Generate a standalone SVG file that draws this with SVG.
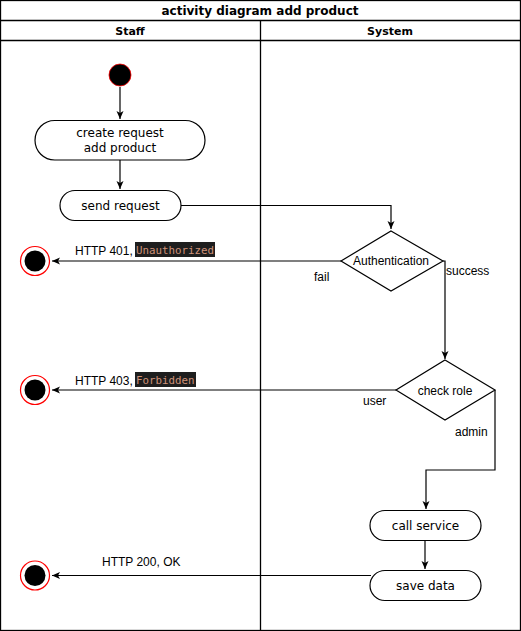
<svg xmlns="http://www.w3.org/2000/svg" width="521" height="631" viewBox="0 0 521 631">
<defs>
<style>
.frame{fill:#fff;stroke:#000;stroke-width:1.3}
.line{fill:none;stroke:#000;stroke-width:1.2}
.node{fill:#fff;stroke:#000;stroke-width:1.2}
.ntext{font-family:"DejaVu Sans",Verdana,sans-serif;font-size:12px;fill:#000;text-anchor:middle}
.head{font-family:"DejaVu Sans",Verdana,sans-serif;font-size:11px;font-weight:bold;fill:#000;text-anchor:middle}
.title{font-family:"DejaVu Sans",Verdana,sans-serif;font-size:12px;font-weight:bold;fill:#000;text-anchor:middle}
.lbl{font-family:"Liberation Sans",Arial,sans-serif;font-size:12px;fill:#000}
.code{font-family:"DejaVu Sans Mono","Liberation Mono",monospace;font-size:10.8px;fill:#ce9178}
.codebg{fill:#1e1e1e}
.start{fill:#000;stroke:#ff0000;stroke-width:0.8}
.endo{fill:#fff;stroke:#ff0000;stroke-width:1.2}
.endi{fill:#000}
</style>
<marker id="arr" markerWidth="10" markerHeight="10" refX="8" refY="5" orient="auto" markerUnits="userSpaceOnUse">
<path d="M0,1.5 L8,5 L0,8.5 L2,5 Z" fill="#000"/>
</marker>
</defs>
<rect width="521" height="631" fill="#fff"/>
<g id="pool">
<rect class="frame" x="0.5" y="0.5" width="520" height="630"/>
<line class="frame" x1="0.5" y1="20.5" x2="520.5" y2="20.5"/>
<line class="frame" x1="0.5" y1="40.5" x2="520.5" y2="40.5"/>
<line class="frame" x1="260.5" y1="20.5" x2="260.5" y2="630.5"/>
<text class="title" x="260" y="15">activity diagram add product</text>
<text class="head" x="130" y="35">Staff</text>
<text class="head" x="390" y="35">System</text>
</g>
<g id="connectors">
<line class="line" x1="120" y1="87" x2="120" y2="119" marker-end="url(#arr)"/>
<line class="line" x1="120" y1="160" x2="120" y2="189" marker-end="url(#arr)"/>
<polyline class="line" points="181,205.5 391,205.5 391,229" marker-end="url(#arr)"/>
<line class="line" x1="341" y1="261" x2="52" y2="261" marker-end="url(#arr)"/>
<polyline class="line" points="443,261 445,261 445,359" marker-end="url(#arr)"/>
<line class="line" x1="396" y1="390" x2="52" y2="390" marker-end="url(#arr)"/>
<polyline class="line" points="495,390 495,470 426,470 426,509" marker-end="url(#arr)"/>
<line class="line" x1="425" y1="540" x2="425" y2="569" marker-end="url(#arr)"/>
<line class="line" x1="371" y1="575.5" x2="52" y2="575.5" marker-end="url(#arr)"/>
<text class="lbl" x="75" y="255">HTTP 401, </text>
<rect class="codebg" x="135" y="242" width="80" height="15"/>
<text class="code" x="136" y="254">Unauthorized</text>
<text class="lbl" x="314" y="281">fail</text>
<text class="lbl" x="446" y="275">success</text>
<text class="lbl" x="75" y="385">HTTP 403, </text>
<rect class="codebg" x="135" y="372" width="61" height="15"/>
<text class="code" x="136" y="384">Forbidden</text>
<text class="lbl" x="363" y="405">user</text>
<text class="lbl" x="455" y="436">admin</text>
<text class="lbl" x="102" y="566">HTTP 200, OK</text>
</g>
<g id="start">
<circle class="start" cx="120" cy="75" r="11"/>
</g>
<g id="create-request">
<rect class="node" x="35" y="120.5" width="170" height="39.5" rx="19.75"/>
<text class="ntext" x="120" y="137">create request</text>
<text class="ntext" x="120" y="152">add product</text>
</g>
<g id="send-request">
<rect class="node" x="60" y="190.5" width="121" height="30" rx="15"/>
<text class="ntext" x="120.5" y="210">send request</text>
</g>
<g id="authentication">
<polygon class="node" points="391,231 443,261 391,291 341,261"/>
<text class="lbl" x="391" y="265" text-anchor="middle">Authentication</text>
</g>
<g id="check-role">
<polygon class="node" points="445,360 495,390 445,420 396,390"/>
<text class="lbl" x="445" y="395" text-anchor="middle">check role</text>
</g>
<g id="call-service">
<rect class="node" x="370" y="510.5" width="111" height="30" rx="15"/>
<text class="ntext" x="425.5" y="530">call service</text>
</g>
<g id="save-data">
<rect class="node" x="370" y="570.5" width="111" height="30" rx="15"/>
<text class="ntext" x="425.5" y="590">save data</text>
</g>
<g id="end-401">
<circle class="endo" cx="35" cy="261" r="14.5"/>
<circle class="endi" cx="35" cy="261" r="10.5"/>
</g>
<g id="end-403">
<circle class="endo" cx="35" cy="390" r="14.5"/>
<circle class="endi" cx="35" cy="390" r="10.5"/>
</g>
<g id="end-200">
<circle class="endo" cx="35" cy="575.5" r="14.5"/>
<circle class="endi" cx="35" cy="575.5" r="10.5"/>
</g>
</svg>
